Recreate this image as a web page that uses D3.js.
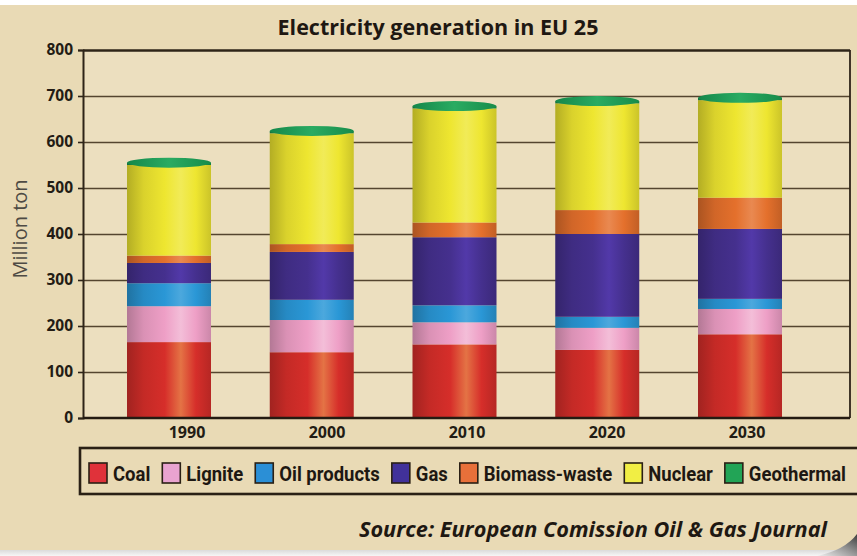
<!DOCTYPE html>
<html>
<head>
<meta charset="utf-8">
<script src="https://cdn.jsdelivr.net/npm/d3@7"></script>
<style>
  html, body { margin: 0; padding: 0; background: #ffffff; overflow: hidden; }
  svg { display: block; }
</style>
</head>
<body>
<svg id="chart" width="857" height="556"></svg>
<script>
// ---- data (million ton) ----
const years = ["1990", "2000", "2010", "2020", "2030"];
const coal         = [165, 143, 160, 148, 182];
const lignite      = [78, 70, 48, 48, 55];
const oilProducts  = [50, 44, 37, 24, 22];
const gas          = [44, 104, 148, 180, 152];
const biomassWaste = [16, 17, 32, 52, 68];
const nuclear      = [197, 241, 248, 232, 212];
const geothermal   = [5, 5, 5, 5, 5];

const seriesNames  = ["Coal", "Lignite", "Oil products", "Gas", "Biomass-waste", "Nuclear", "Geothermal"];
const seriesValues = [coal, lignite, oilProducts, gas, biomassWaste, nuclear, geothermal];
const seriesColors = ["#d62e2a", "#ee9fc6", "#2a97d6", "#45308e", "#e4702c", "#eee630", "#1b9650"];
const legendColors = ["#e0323a", "#e9a3d0", "#2b8fd6", "#41319a", "#e8703a", "#f1ee44", "#22a456"];
const yTicks = [0, 100, 200, 300, 400, 500, 600, 700, 800];

const titleText  = "Electricity generation in EU 25";
const yTitle     = "Million ton";
const sourceText = "Source: European Comission Oil & Gas Journal";

// ---- layout ----
const W = 857, H = 556;
const plot = { left: 83, right: 850, top: 50, bottom: 418 };
const barWidth = 84;

const svg = d3.select("#chart");
const defs = svg.append("defs");

// rows for the stack
const rows = years.map((yr, i) => {
  const r = { year: yr };
  seriesNames.forEach((s, k) => { r[s] = seriesValues[k][i]; });
  return r;
});
const stacked = d3.stack().keys(seriesNames)(rows);

const y = d3.scaleLinear().domain([0, 800]).range([plot.bottom, plot.top]);
const xBar = d3.scalePoint().domain(years).range([169, 740]);
const xLabel = d3.scalePoint().domain(years).range([187, 747]);

// ---- background panel ----
const bgGrad = defs.append("linearGradient").attr("id", "bottomFade")
  .attr("x1", 0).attr("y1", 0).attr("x2", 0).attr("y2", 1);
bgGrad.append("stop").attr("offset", 0).attr("stop-color", "#c4c4c4");
bgGrad.append("stop").attr("offset", 1).attr("stop-color", "#f6f6f6");
svg.append("rect").attr("x", 0).attr("y", 545).attr("width", W).attr("height", 11)
  .attr("fill", "url(#bottomFade)");

svg.append("rect")
  .attr("x", -40).attr("y", 5).attr("width", W + 80).attr("height", 545)
  .attr("rx", 38).attr("ry", 38)
  .attr("fill", "#e9dab5");

// page curl in the lower right corner
const curlGrad = defs.append("linearGradient").attr("id", "curl")
  .attr("x1", 0).attr("y1", 1).attr("x2", 1).attr("y2", 0);
curlGrad.append("stop").attr("offset", 0).attr("stop-color", "#f0f0f0");
curlGrad.append("stop").attr("offset", 0.5).attr("stop-color", "#9a9a9a");
curlGrad.append("stop").attr("offset", 1).attr("stop-color", "#3c3c3c");
svg.append("path")
  .attr("d", `M ${W - 40} ${H} Q ${W - 12} ${H - 6} ${W} ${H - 22} L ${W} ${H} Z`)
  .attr("fill", "url(#curl)");

// plot area
svg.append("rect")
  .attr("x", plot.left).attr("y", plot.top)
  .attr("width", plot.right - plot.left).attr("height", plot.bottom - plot.top)
  .attr("fill", "#ecdfbf");

// ---- grid ----
const grid = svg.append("g").attr("transform", `translate(${plot.left},0)`)
  .call(d3.axisLeft(y).tickValues(yTicks).tickSize(-(plot.right - plot.left)).tickFormat(""));
grid.select(".domain").remove();
grid.selectAll(".tick line")
  .attr("stroke", "#54452f").attr("stroke-width", 1.6)
  .filter(d => d === 800).attr("stroke", "#2e2418").attr("stroke-width", 2.6);
grid.selectAll(".tick").filter(d => d === 0).remove();

// right border
svg.append("line")
  .attr("x1", plot.right).attr("x2", plot.right)
  .attr("y1", plot.top).attr("y2", plot.bottom)
  .attr("stroke", "#2e2418").attr("stroke-width", 1.8);

// ---- cylinder shading gradients ----
function highlightOf(base) {
  const h = d3.hsl(base);
  // reds warm up towards orange where the light hits
  if (h.h < 20 || h.h > 340) { h.h = (h.h + 16) % 360; h.s = Math.min(1, h.s * 1.1); }
  h.l = Math.min(0.85, h.l * 1.08 + 0.04);
  return h;
}
function cylinderGradient(id, base) {
  const c = d3.color(base);
  const hi = highlightOf(base);
  const g = defs.append("linearGradient").attr("id", id)
    .attr("x1", 0).attr("y1", 0).attr("x2", 1).attr("y2", 0);
  [[0, c.darker(0.8)], [0.2, c.darker(0.25)], [0.45, c], [0.64, hi], [0.82, c], [1, c.darker(0.45)]]
    .forEach(([o, col]) => g.append("stop").attr("offset", o).attr("stop-color", d3.color(col).formatHex()));
}
seriesNames.forEach((s, k) => cylinderGradient("cyl" + k, seriesColors[k]));

const capGrad = defs.append("linearGradient").attr("id", "cap")
  .attr("x1", 0).attr("y1", 0).attr("x2", 1).attr("y2", 0);
capGrad.append("stop").attr("offset", 0).attr("stop-color", "#14874a");
capGrad.append("stop").attr("offset", 0.5).attr("stop-color", "#2aab62");
capGrad.append("stop").attr("offset", 1).attr("stop-color", "#178c4a");

// ---- bars ----
const layers = svg.append("g").selectAll("g")
  .data(stacked).join("g")
  .attr("fill", (d, k) => `url(#cyl${k})`);

layers.selectAll("rect")
  .data(d => d.map(v => ({ v, year: v.data.year })))
  .join("rect")
  .attr("x", d => xBar(d.year) - barWidth / 2)
  .attr("y", d => y(d.v[1]))
  .attr("width", barWidth)
  .attr("height", d => y(d.v[0]) - y(d.v[1]));

// top face of each cylinder
const topLayer = stacked[stacked.length - 1];
svg.append("g").selectAll("ellipse")
  .data(topLayer)
  .join("ellipse")
  .attr("cx", d => xBar(d.data.year))
  .attr("cy", d => y(d[1]))
  .attr("rx", barWidth / 2)
  .attr("ry", 5)
  .attr("fill", "url(#cap)");

// ---- axes ----
const yAxis = svg.append("g").attr("transform", `translate(${plot.left},0)`)
  .call(d3.axisLeft(y).tickValues(yTicks).tickSize(5).tickPadding(5));
yAxis.select(".domain").attr("stroke", "#2e2418").attr("stroke-width", 2);
yAxis.selectAll(".tick line").attr("stroke", "#2e2418").attr("stroke-width", 1.6);
yAxis.selectAll(".tick text")
  .attr("font-family", "'Open Sans', sans-serif")
  .attr("font-weight", 700).attr("font-size", 15.5).attr("fill", "#231c14");

svg.append("line")
  .attr("x1", plot.left).attr("x2", plot.right)
  .attr("y1", plot.bottom).attr("y2", plot.bottom)
  .attr("stroke", "#241b12").attr("stroke-width", 2.6);

svg.append("g").selectAll("text")
  .data(years).join("text")
  .attr("x", d => xLabel(d)).attr("y", 438)
  .attr("text-anchor", "middle")
  .attr("font-family", "'Open Sans', sans-serif")
  .attr("font-weight", 700).attr("font-size", 16).attr("fill", "#231c14")
  .text(d => d);

// y title
svg.append("text")
  .attr("transform", "translate(27,229) rotate(-90)")
  .attr("text-anchor", "middle")
  .attr("font-family", "'Open Sans', sans-serif")
  .attr("font-size", 20).attr("fill", "#4e4a44")
  .text(yTitle);

// title
svg.append("text")
  .attr("x", 438).attr("y", 35)
  .attr("text-anchor", "middle")
  .attr("font-family", "'Open Sans', sans-serif")
  .attr("font-weight", 700).attr("font-size", 21.5).attr("fill", "#1e1812")
  .text(titleText);

// ---- legend ----
svg.append("rect")
  .attr("x", 80).attr("y", 448).attr("width", 800).attr("height", 46)
  .attr("fill", "none").attr("stroke", "#2a2015").attr("stroke-width", 2.6);

const legend = svg.append("g");
const items = legend.selectAll("g").data(seriesNames).join("g");
items.append("rect")
  .attr("width", 18).attr("height", 20).attr("y", 463)
  .attr("fill", (d, k) => legendColors[k])
  .attr("stroke", "#2a2015").attr("stroke-width", 1.6);
const labels = items.append("text")
  .attr("y", 481)
  .attr("font-family", "Roboto, 'Open Sans', sans-serif")
  .attr("font-weight", 700).attr("font-size", 20).attr("fill", "#1e1812")
  .text(d => d);

// condense the labels so the row fits inside the visible width
const swatchW = 18, swatchGap = 6, itemGap = 12;
const span = 846 - 89;
const natural = [];
labels.each(function () { natural.push(this.getComputedTextLength()); });
const fixed = seriesNames.length * (swatchW + swatchGap) + (seriesNames.length - 1) * itemGap;
const squeeze = (span - fixed) / d3.sum(natural);
labels.attr("textLength", (d, k) => natural[k] * squeeze)
  .attr("lengthAdjust", "spacingAndGlyphs");
let cx = 89;
items.each(function (d, k) {
  const g = d3.select(this);
  g.select("rect").attr("x", cx);
  g.select("text").attr("x", cx + swatchW + swatchGap);
  cx += swatchW + swatchGap + natural[k] * squeeze + itemGap;
});

// source line
svg.append("text")
  .attr("x", 827).attr("y", 537)
  .attr("text-anchor", "end")
  .attr("font-family", "'Open Sans', sans-serif")
  .attr("font-style", "italic").attr("font-weight", 700)
  .attr("font-size", 21.7).attr("fill", "#1e1812")
  .text(sourceText);
</script>
</body>
</html>
